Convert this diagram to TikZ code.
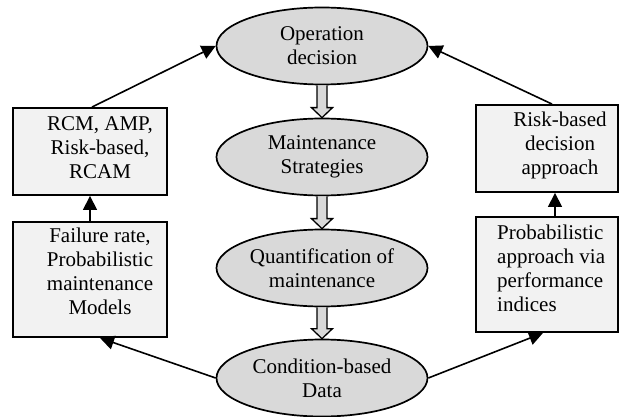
\documentclass[tikz,border=0pt]{standalone}
\usepackage{fontspec}
\setmainfont{Liberation Serif}
\usetikzlibrary{shapes.geometric,arrows.meta,calc}
\definecolor{ellfill}{HTML}{D9D9D9}
\definecolor{boxfill}{HTML}{F2F2F2}
\begin{document}
\begin{tikzpicture}[x=1pt,y=-1pt,
  every node/.style={font=\fontsize{21}{24}\selectfont},
  ell/.style={ellipse,draw,line width=1.7pt,fill=ellfill,minimum width=211pt,minimum height=77pt,inner sep=0pt,align=center},
  boxshape/.style={rectangle,draw,line width=1.9pt,fill=boxfill,inner sep=0pt},
  txt/.style={inner sep=0pt,align=center},
  conn/.style={line width=1.6pt,-{Triangle[length=14pt,width=14pt]}},
  blockarrow/.style={draw,line width=1.3pt,fill=ellfill,line join=miter}
]
\useasboundingbox (0,0) rectangle (619,417);
% ellipses
\node[ell] (e1) at (322,46) {Operation\\decision};
\node[ell] (e2) at (322,157) {Maintenance\\Strategies};
\node[ell] (e3) at (322,268) {Quantification of\\maintenance};
\node[ell] (e4) at (322,378) {Condition-based\\Data};
% boxes
\node[boxshape,minimum width=154pt,minimum height=87pt] (b1) at (90,151.5) {};
\node[boxshape,minimum width=154pt,minimum height=115pt] (b2) at (90,279.5) {};
\node[boxshape,minimum width=142pt,minimum height=87pt] (b3) at (547,148.5) {};
\node[boxshape,minimum width=142pt,minimum height=115pt] (b4) at (547,274.5) {};
% box texts
\node[txt] (t1) at (100,147.5) {RCM, AMP,\\Risk-based,\\RCAM};
\node[txt] (t2) at (100,271) {Failure rate,\\Probabilistic\\maintenance\\Models};
\node[txt] (t3) at (560,145) {Risk-based\\decision\\approach};
\node[txt,align=left,anchor=west] (t4) at (497,268) {Probabilistic\\approach via\\performance\\indices};
% block arrows
\foreach \a/\b in {e1/e2,e2/e3,e3/e4}{
  \draw[blockarrow] ($(\a.south)+(-5,0)$) -- ($(\b.north)+(-5,-10)$) -- ($(\b.north)+(-10.5,-10)$)
    -- (\b.north) -- ($(\b.north)+(10.5,-10)$) -- ($(\b.north)+(5,-10)$) -- ($(\a.south)+(5,0)$);
}
% connectors
\draw[conn] (b2.north) -- (b1.south);
\draw[conn] ([xshift=2pt]b1.north) -- (e1.west);
\draw[conn] (e4.west) -- ([xshift=10pt]b2.south);
\draw[conn] ([xshift=8pt]b4.north) -- ([xshift=8pt]b3.south);
\draw[conn] ([xshift=5pt]b3.north) -- (e1.east);
\draw[conn] (e4.east) -- ([xshift=-4pt]b4.south);
\end{tikzpicture}
\end{document}
